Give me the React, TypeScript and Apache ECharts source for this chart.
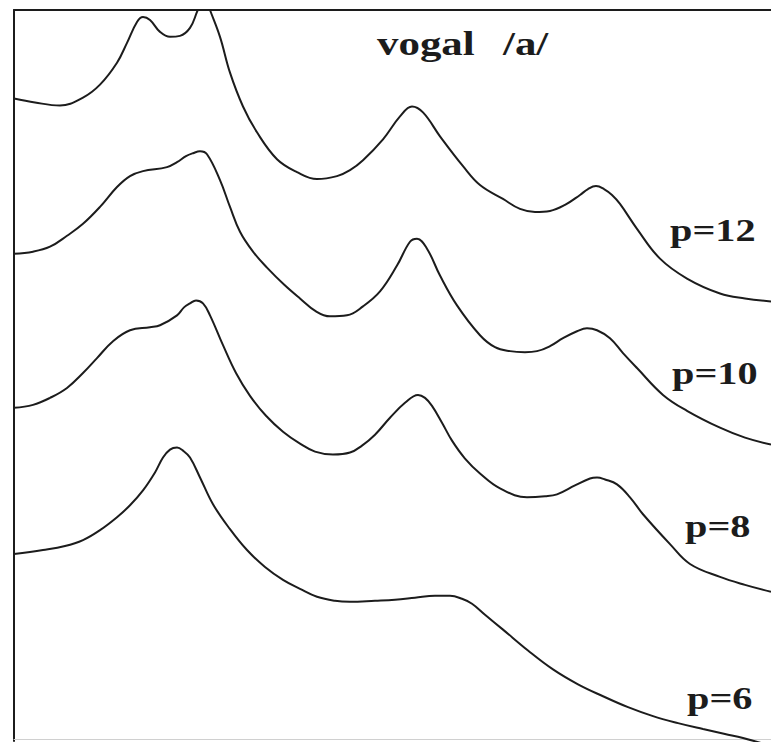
import React, { useEffect, useRef } from "react";
import * as echarts from "echarts";

// LPC spectral envelopes of the vowel /a/ for several predictor orders.
// x: frequency bin (0..757), y: relative level (curves are stacked with offsets).
const freqP12 = [0, 21, 46, 69, 86, 103, 113, 123, 129, 136, 146, 156, 166, 176, 183, 190, 196, 206, 216, 229, 243, 263, 283, 303, 323, 336, 349, 369, 386, 398, 409, 426, 449, 466, 489, 506, 521, 536, 551, 566, 574, 582, 590, 598, 606, 623, 646, 673, 706, 731, 757];
const levelP12 = [644, 640, 637, 645, 658, 680, 700, 721, 726, 723, 711, 706, 707, 715, 731, 749, 733, 706, 670, 636, 610, 583, 570, 563, 566, 572, 582, 603, 626, 636, 630, 606, 576, 557, 543, 533, 530, 531, 537, 547, 553, 556, 553, 547, 538, 513, 483, 463, 448, 443, 440];

const freqP10 = [0, 19, 36, 53, 69, 86, 103, 116, 129, 153, 163, 172, 179, 186, 193, 206, 216, 226, 239, 253, 270, 286, 302, 316, 333, 349, 366, 383, 396, 403, 413, 426, 443, 466, 481, 496, 511, 523, 536, 549, 563, 573, 583, 596, 609, 623, 649, 673, 706, 731, 757];
const levelP10 = [488, 490, 495, 506, 518, 535, 555, 566, 571, 575, 580, 586, 589, 591, 588, 562, 535, 510, 490, 474, 457, 443, 430, 425, 426, 435, 450, 476, 500, 503, 493, 466, 436, 406, 394, 390, 389, 390, 395, 403, 410, 413, 411, 403, 388, 373, 346, 330, 313, 303, 296];

const freqP8 = [0, 19, 36, 53, 69, 83, 99, 116, 136, 146, 163, 170, 176, 182, 189, 196, 209, 222, 236, 252, 269, 286, 301, 319, 336, 348, 361, 376, 391, 404, 411, 418, 428, 438, 451, 466, 486, 513, 531, 543, 561, 576, 583, 591, 603, 616, 629, 656, 676, 706, 731, 757];
const levelP8 = [333, 336, 343, 353, 368, 383, 400, 411, 414, 416, 426, 434, 438, 441, 438, 426, 396, 368, 345, 325, 309, 297, 289, 286, 288, 295, 306, 323, 338, 346, 343, 335, 318, 300, 282, 267, 252, 243, 244, 246, 255, 262, 263, 261, 256, 243, 226, 196, 176, 163, 155, 148];

const freqP6 = [0, 29, 51, 69, 86, 103, 116, 129, 141, 149, 156, 163, 169, 176, 186, 199, 216, 233, 251, 269, 286, 303, 321, 336, 361, 381, 401, 421, 436, 448, 458, 471, 489, 514, 539, 564, 589, 614, 639, 664, 689, 711, 729, 757];
const levelP6 = [186, 190, 194, 200, 210, 223, 235, 250, 268, 283, 291, 293, 290, 283, 263, 236, 211, 190, 173, 160, 151, 143, 139, 138, 139, 140, 142, 144, 144, 141, 136, 125, 110, 89, 70, 55, 43, 32, 23, 16, 10, 5, 1, -7];

const orderLabels = ["p=12", "p=10", "p=8", "p=6"];
const titleWord = "vogal";
const titlePhoneme = "/a/";

const pair = (xs: number[], ys: number[]) => xs.map((x, i) => [x, ys[i]]);

const INK = "#1c1c1c";
const SERIF = "Liberation Serif";

export default function App() {
  const ref = useRef<HTMLDivElement>(null);

  useEffect(() => {
    if (!ref.current) return;
    const chart = echarts.init(ref.current, undefined, { renderer: "svg" });

    const curves = [
      { name: orderLabels[0], data: pair(freqP12, levelP12) },
      { name: orderLabels[1], data: pair(freqP10, levelP10) },
      { name: orderLabels[2], data: pair(freqP8, levelP8) },
      { name: orderLabels[3], data: pair(freqP6, levelP6) },
    ];

    const labelText = (text: string, x: number, y: number, size: number) => ({
      type: "text",
      x,
      y,
      scaleX: 1.3,
      style: {
        text,
        fill: INK,
        fontFamily: SERIF,
        fontWeight: "bold",
        fontSize: size,
        textAlign: "left",
        textVerticalAlign: "middle",
      },
    });

    chart.setOption({
      animation: false,
      backgroundColor: "#ffffff",
      grid: { left: 14, top: 10, right: 0, bottom: 2 },
      xAxis: [
        {
          type: "value",
          min: 0,
          max: 757,
          position: "bottom",
          axisLine: { show: true, lineStyle: { color: "#d0d0d0", width: 1 } },
          axisTick: { show: false },
          axisLabel: { show: false },
          splitLine: { show: false },
        },
        {
          type: "value",
          min: 0,
          max: 757,
          position: "top",
          axisLine: { show: true, onZero: false, lineStyle: { color: INK, width: 2 } },
          axisTick: { show: false },
          axisLabel: { show: false },
          splitLine: { show: false },
        },
      ],
      yAxis: {
        type: "value",
        min: -2,
        max: 733,
        position: "left",
        axisLine: { show: true, onZero: false, lineStyle: { color: INK, width: 2 } },
        axisTick: { show: false },
        axisLabel: { show: false },
        splitLine: { show: false },
      },
      series: curves.map((c) => ({
        type: "line",
        name: c.name,
        xAxisIndex: 0,
        data: c.data,
        smooth: 0.4,
        showSymbol: false,
        clip: true,
        lineStyle: { color: INK, width: 2 },
      })),
      graphic: [
        labelText(titleWord, 377, 44, 33),
        labelText(titlePhoneme, 503, 44, 33),
        labelText(orderLabels[0], 670, 231, 31),
        labelText(orderLabels[1], 672, 374, 31),
        labelText(orderLabels[2], 685, 527, 31),
        labelText(orderLabels[3], 687, 699, 31),
      ],
    });

    return () => chart.dispose();
  }, []);

  return (
    <div
      ref={ref}
      style={{ position: "fixed", left: 0, top: 0, width: 771, height: 743, background: "#fff" }}
    />
  );
}
